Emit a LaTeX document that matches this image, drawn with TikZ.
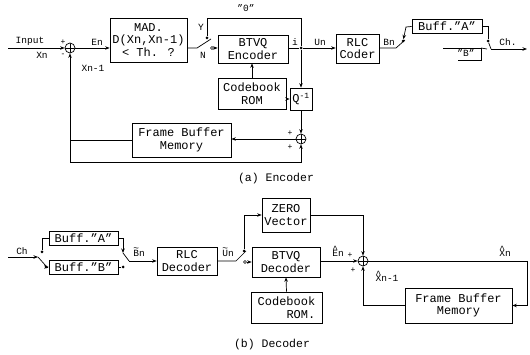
\documentclass[tikz,border=0pt]{standalone}
\usepackage{fontspec}
\setmainfont{Liberation Mono}
\usetikzlibrary{arrows.meta}
\newcommand\tildeover[1]{{\ooalign{#1\cr\hidewidth\raisebox{0.5em}{\char"7E}\hidewidth\cr}}}
\newcommand\hatover[1]{{\ooalign{#1\cr\hidewidth\raisebox{0.4em}{\char"5E}\hidewidth\cr}}}
\begin{document}
\begin{tikzpicture}[x=1pt,y=-1pt, line width=0.7pt,
  >={Stealth[length=4.5pt,width=3.5pt]},
  blk/.style={draw, inner sep=0pt, align=center, font=\fontsize{12}{12.5}\selectfont},
  lbl/.style={inner sep=0pt, font=\fontsize{9.5}{10}\selectfont},
  pm/.style={inner sep=0pt, font=\fontsize{8}{8}\selectfont},
  captxt/.style={inner sep=0pt, font=\fontsize{11.5}{12}\selectfont},
  sumc/.style={draw, circle, minimum size=10pt, inner sep=0pt,
    path picture={\draw (path picture bounding box.north) -- (path picture bounding box.south)
      (path picture bounding box.west) -- (path picture bounding box.east);}},
  dot/.style={circle, fill, inner sep=0pt, minimum size=3pt},
  odot/.style={circle, draw, fill=white, inner sep=0pt, minimum size=3pt, line width=0.5pt}]
\useasboundingbox (0,0) rectangle (530,355);

% ================= Encoder =================
\coordinate (in) at (8,48);
\node[sumc] (s1) at (70,48) {};
\draw[->] (in) -- (s1.west);
\node[lbl] at (30,41) {Input};
\node[lbl] at (42,55) {Xn};
\node[pm] at (63,42) {+};
\node[pm] at (63,55) {-};
\node[blk, minimum width=77pt, minimum height=44pt] (mad) at (148.5,40) {MAD.\\D(Xn,Xn-1)\\< Th. ?};
\draw[->] (s1.east) -- (mad.west |- s1);
\node[lbl] at (97,42) {En};

% switch Y/N
\coordinate (swp) at (197,48);
\draw (mad.east |- swp) -- (swp) -- (211,39);
\node[dot] (cy) at (207,38) {};
\node[odot] (cn) at (212,48) {};
\node[lbl] at (201,27) {Y};
\node[lbl] at (203,55) {N};
\node[blk, minimum width=70pt, minimum height=28pt] (btvq) at (253,49) {BTVQ\\Encoder};
\draw[->] (cn) -- (btvq.west |- cn);
\node[dot] (j1) at (301,48) {};
\draw (cy) -- (207,18) -- (301,18) -- (j1);
\node[lbl] at (246,8) {"0"};
\draw (btvq.east |- j1) -- (j1);
\node[lbl] at (295,42) {i};

\node[blk, minimum width=68pt, minimum height=31pt] (cb) at (252,93.5) {Codebook\\ROM};
\draw[->] (cb.north) -- (cb.north |- btvq.south);
\node[blk, minimum width=22pt, minimum height=22pt] (qi) at (301,99) {Q\textsuperscript{-1}};
\draw[->] (cb.east |- qi) -- (qi.west);
\draw[->] (j1) -- (qi.north);

\node[blk, minimum width=43pt, minimum height=29pt] (rlc) at (357.5,48.5) {RLC\\Coder};
\draw[->] (j1) -- (rlc.west |- j1);
\node[lbl] at (320,42) {Un};

\node[sumc] (s2) at (301,139) {};
\draw[->] (qi.south) -- (s2.north);
\node[pm] at (290,133) {+};
\node[pm] at (290,147) {+};
\node[blk, minimum width=99pt, minimum height=34pt] (fb) at (181.5,140) {Frame Buffer\\Memory};
\draw[->] (s2.west) -- (fb.east |- s2);
\coordinate (bl) at (70,162);
\coordinate (br) at (301,162);
\draw[->] (bl) -- (br) -- (s2.south);
\draw (fb.west) -- (fb.west -| bl);
\draw[->] (bl) -- (s1.south);
\node[lbl] at (93,68) {Xn-1};

% buffers
\node[lbl] at (389,42) {Bn};
\coordinate (bsw) at (396,48);
\draw (rlc.east |- bsw) -- (bsw) -- (405,40);
\node[dot] (ca) at (403,41) {};
\node[blk, minimum width=70pt, minimum height=14pt] (bufa) at (447,26.5) {Buff."A"};
\draw[<-] (ca) -- (406,27) -- (bufa.west);
\node[dot] (cao) at (488,41) {};
\draw (bufa.east) -- (488,26.5) -- (cao);
\node[lbl] (bufb) at (466,53) {"B"};
\draw (443,48) -- (481,48) -- (481,60) -- (458,60);
\coordinate (op) at (491,49);
\draw (481,48) -- (487,49);
\draw (op) -- (cao);
\coordinate (chout) at (527,49);
\draw[->] (op) -- (chout);
\node[lbl] at (508,42) {Ch.};

\node[captxt] at (276,179) {(a) Encoder};

% ================= Decoder =================
\coordinate (chin) at (8,257);
\coordinate (dsw) at (38,257);
\draw[->] (chin) -- (dsw);
\node[lbl] at (22,251) {Ch};
\draw (dsw) -- (46,266);
\node[blk, minimum width=69pt, minimum height=14pt] (dba) at (83.5,238) {Buff."A"};
\node[blk, minimum width=69pt, minimum height=14pt] (dbb) at (83.5,267) {Buff."B"};
\node[dot] (dca) at (42,252) {};
\draw (dca) -- (42,238) -- (dba.west);
\node[dot] (dcB) at (46,267) {};
\draw[->] (dcB) -- (dbb.west);
\coordinate (dao) at (123,253);
\draw[->] (dba.east) -- (123,238) -- (dao);
\coordinate (dbo) at (129,261);
\draw (dao) -- (dbo);
\node[dot] (dcb2) at (123,267) {};
\draw (dbb.east) -- (dcb2);
\node[lbl] at (139,253) {\tildeover{B}n};
\node[blk, minimum width=60pt, minimum height=28pt] (rld) at (187,261) {RLC\\Decoder};
\draw[->] (dbo) -- (rld.west |- dbo);
\node[lbl] at (228,253) {\tildeover{U}n};

\coordinate (usw) at (236,261);
\draw (rld.east |- usw) -- (usw) -- (246,251);
\node[dot] (zc) at (244,251) {};
\node[blk, minimum width=48pt, minimum height=34pt] (zero) at (286,215) {ZERO\\Vector};
\draw[->] (zc) -- (244,215) -- (zero.west);
\node[odot] (nc) at (245,262) {};
\node[blk, minimum width=68pt, minimum height=30pt] (btd) at (286,262) {BTVQ\\Decoder};
\draw[->] (nc) -- (btd.west |- nc);
\node[blk, minimum width=71pt, minimum height=31pt, align=right] (dcbk) at (286.5,307.5) {Codebook\\ROM.};
\draw[->] (dcbk.north) -- (btd.south);

\node[sumc] (s3) at (363,261) {};
\draw[->] (btd.east |- s3) -- (s3.west);
\node[lbl] at (338,253) {\hatover{E}n};
\node[pm] at (350,255) {+};
\node[pm] at (353,270) {+};
\draw[->] (zero.east) -- (zero.east -| s3) -- (s3.north);
\coordinate (dr) at (527,261);
\draw (s3.east) -- (dr);
\node[lbl] at (505,253) {\hatover{X}n};
\node[blk, minimum width=107pt, minimum height=35pt] (dfb) at (458.5,305.5) {Frame Buffer\\Memory};
\draw[->] (dr) -- (dr |- dfb) -- (dfb.east);
\draw[->] (dfb.west) -- (dfb.west -| s3) -- (s3.south);
\node[lbl] at (387,278) {\hatover{X}n-1};

\node[captxt] at (272,345) {(b) Decoder};
\end{tikzpicture}
\end{document}
